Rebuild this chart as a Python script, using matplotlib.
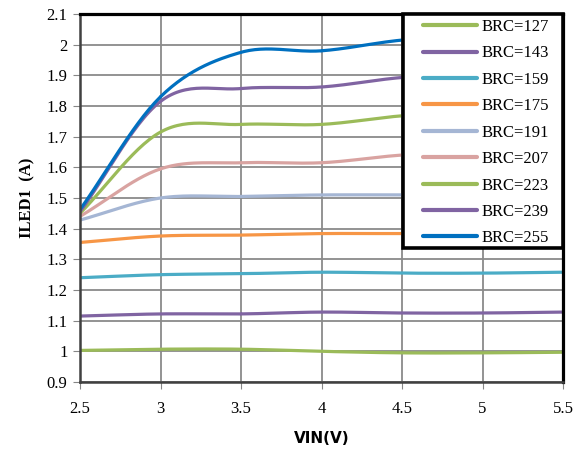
import numpy as np
import matplotlib
matplotlib.use("Agg")
import matplotlib.pyplot as plt
from matplotlib.patches import Rectangle

# input voltage (V)
vin = [2.5, 3.0, 3.5, 4.0, 4.5, 5.0, 5.5]

# LED current (A) per BRC setting
brc_labels = ["BRC=127", "BRC=143", "BRC=159", "BRC=175", "BRC=191",
              "BRC=207", "BRC=223", "BRC=239", "BRC=255"]
brc127 = [1.003, 1.007, 1.007, 1.000, 0.995, 0.995, 0.997]
brc143 = [1.115, 1.122, 1.122, 1.128, 1.125, 1.125, 1.128]
brc159 = [1.240, 1.250, 1.253, 1.258, 1.255, 1.255, 1.258]
brc175 = [1.355, 1.376, 1.379, 1.384, 1.384, 1.385, 1.385]
brc191 = [1.428, 1.500, 1.505, 1.510, 1.510, 1.510, 1.510]
brc207 = [1.440, 1.595, 1.615, 1.615, 1.640, 1.650, 1.660]
brc223 = [1.450, 1.715, 1.740, 1.740, 1.768, 1.780, 1.790]
brc239 = [1.455, 1.815, 1.857, 1.862, 1.893, 1.905, 1.915]
brc255 = [1.462, 1.830, 1.975, 1.980, 2.015, 2.030, 2.040]
series = [brc127, brc143, brc159, brc175, brc191, brc207, brc223, brc239, brc255]

colors = ["#9BBB59", "#8064A2", "#4BACC6", "#F79646", "#A5B6D4",
          "#D9A3A1", "#9BBB59", "#8064A2", "#0070C0"]


def smooth(x, y, n=30):
    """Catmull-Rom style smoothing, similar to Excel's smoothed lines."""
    x = np.asarray(x, float)
    y = np.asarray(y, float)
    px = np.concatenate([[2 * x[0] - x[1]], x, [2 * x[-1] - x[-2]]])
    py = np.concatenate([[2 * y[0] - y[1]], y, [2 * y[-1] - y[-2]]])
    xs, ys = [], []
    t = np.linspace(0, 1, n)
    for i in range(1, len(px) - 2):
        p0, p1, p2, p3 = py[i - 1], py[i], py[i + 1], py[i + 2]
        ys.append(0.5 * (2 * p1 + (-p0 + p2) * t + (2 * p0 - 5 * p1 + 4 * p2 - p3) * t ** 2
                         + (-p0 + 3 * p1 - 3 * p2 + p3) * t ** 3))
        xs.append(px[i] + (px[i + 1] - px[i]) * t)
    return np.concatenate(xs), np.concatenate(ys)


plt.rcParams['font.family'] = ['Liberation Serif', 'DejaVu Serif']

fig = plt.figure(figsize=(5.85, 4.5), dpi=100)
ax = fig.add_axes([80 / 585, 68 / 450, 483 / 585, 368 / 450])

handles = []
for vals, lab, c in zip(series, brc_labels, colors):
    sx, sy = smooth(vin, vals)
    h, = ax.plot(sx, sy, color=c, lw=2.3, label=lab, solid_capstyle='round')
    handles.append(h)

ax.set_xlim(2.5, 5.5)
ax.set_ylim(0.9, 2.1)
ax.set_xticks(np.arange(2.5, 5.51, 0.5))
ax.set_xticklabels(["2.5", "3", "3.5", "4", "4.5", "5", "5.5"])
ax.set_yticks(np.arange(0.9, 2.101, 0.1))
ax.set_yticklabels(["0.9", "1", "1.1", "1.2", "1.3", "1.4", "1.5", "1.6",
                    "1.7", "1.8", "1.9", "2", "2.1"])
ax.tick_params(labelsize=12, length=5, color="#868686", direction='out')
ax.tick_params(axis='x', pad=9)
ax.tick_params(axis='y', pad=4)
ax.grid(True, color="#8a8a8a", lw=1.3)
ax.set_axisbelow(True)
for side in ['top', 'right']:
    ax.spines[side].set_color("black")
    ax.spines[side].set_linewidth(2.3)
for side in ['left', 'bottom']:
    ax.spines[side].set_color("#404040")
    ax.spines[side].set_linewidth(1.8)

ax.set_xlabel("VIN(V)", family="DejaVu Sans", fontweight="bold", fontsize=11, labelpad=10)
ax.set_ylabel("ILED1  (A)", fontweight="bold", fontsize=12, labelpad=8)

# legend box drawn over the plot, sharing its top right corner
box = Rectangle((403 / 585, 202 / 450), 160 / 585, 234 / 450, transform=fig.transFigure,
                facecolor="white", edgecolor="black", lw=2.6, zorder=5)
fig.add_artist(box)
leg = fig.legend(handles=handles, loc='upper left', bbox_to_anchor=(418 / 585, 1 - 14 / 450),
                 borderaxespad=0, frameon=False, fontsize=12, handlelength=3.24,
                 handletextpad=0.25, labelspacing=0.625, borderpad=0.3)
leg.set_zorder(6)
for line in leg.get_lines():
    line.set_linewidth(3)

fig.savefig("out.png", dpi=100)
